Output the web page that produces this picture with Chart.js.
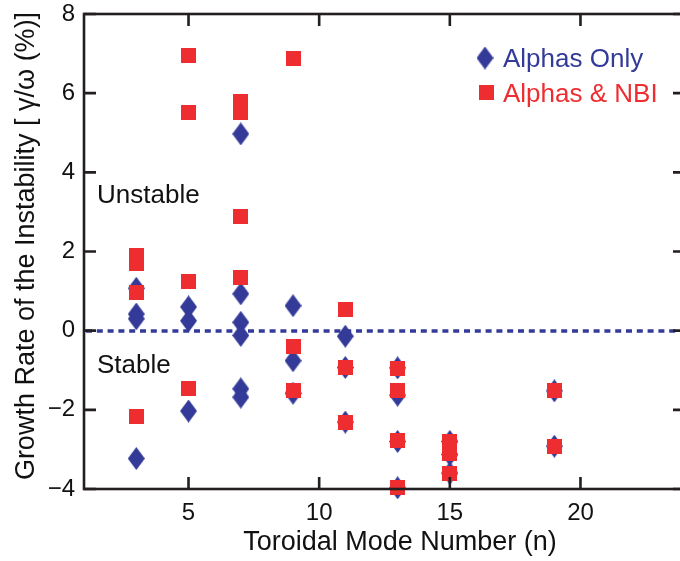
<!DOCTYPE html>
<html><head><meta charset="utf-8">
<script src="https://cdn.jsdelivr.net/npm/chart.js@4"></script>
<style>
html,body{margin:0;padding:0;background:#fff;overflow:hidden}
#wrap{width:680px;height:561px;overflow:hidden;position:relative;background:#fff}
canvas{display:block}
</style></head><body>
<div id="wrap"><canvas id="c" width="690" height="561" style="width:690px;height:561px"></canvas></div>
<script>
// ---- data ----
const alphasOnlyN      = [3, 3, 3, 3,   5, 5, 5,   7, 7, 7, 7, 7, 7,   9, 9, 9,   11, 11, 11,   13, 13, 13, 13,   15, 15, 15,   19, 19];
const alphasOnlyGrowth = [1.07, 0.42, 0.30, -3.23,   0.60, 0.25, -2.03,   4.97, 0.93, 0.21, -0.12, -1.47, -1.68,   0.63, -0.76, -1.58,   -0.14, -0.93, -2.31,   -0.94, -1.63, -2.80, -3.97,   -2.80, -3.13, -3.60,   -1.52, -2.92];
const alphasNbiN       = [3, 3, 3, 3,   5, 5, 5, 5,   7, 7, 7, 7,   9, 9, 9,   11, 11, 11,   13, 13, 13, 13,   15, 15, 15,   19, 19];
const alphasNbiGrowth  = [1.90, 1.70, 0.97, -2.18,   6.95, 5.51, 1.25, -1.47,   5.80, 5.50, 2.89, 1.34,   6.87, -0.39, -1.51,   0.54, -0.92, -2.31,   -0.95, -1.51, -2.77, -3.95,   -2.80, -3.10, -3.62,   -1.52, -2.92];
const seriesLabels = ['Alphas Only', 'Alphas & NBI'];
const xTickValues = [5, 10, 15, 20];
const yTickValues = [-4, -2, 0, 2, 4, 6, 8];
const xRange = [1, 24];
const yRange = [-4, 8];
const stabilityThreshold = 0;
const regionLabels = ['Unstable', 'Stable'];
const xTitle = 'Toroidal Mode Number (n)';
const yTitle = 'Growth Rate of the Instability [ γ/ω (%)]';

// ---- styles ----
const BLUE = '#333a98';
const RED = '#ed2d30';
const INK = '#111111';
const FONT = '"Liberation Sans", Arial, Helvetica, sans-serif';

function makeDiamond(color, w, h) {
  const c = document.createElement('canvas'); c.width = w; c.height = h;
  const g = c.getContext('2d'); g.fillStyle = color;
  g.beginPath(); g.moveTo(w / 2, 0); g.lineTo(w, h / 2); g.lineTo(w / 2, h); g.lineTo(0, h / 2); g.closePath(); g.fill();
  return c;
}
function makeSquare(color, s) {
  const c = document.createElement('canvas'); c.width = s; c.height = s;
  const g = c.getContext('2d'); g.fillStyle = color; g.fillRect(0, 0, s, s);
  return c;
}
const diamondImg = makeDiamond(BLUE, 17, 23);
const squareImg = makeSquare(RED, 15);

const toPoints = (xs, ys) => xs.map((x, i) => ({ x: x, y: ys[i] }));

const decor = {
  id: 'decor',
  beforeDatasetsDraw(chart) {
    const { ctx, chartArea: a, scales: { y } } = chart;
    const py = Math.round(y.getPixelForValue(stabilityThreshold));
    ctx.save();
    ctx.strokeStyle = BLUE; ctx.lineWidth = 3.5; ctx.setLineDash([6, 4.8]);
    ctx.beginPath(); ctx.moveTo(a.left + 2, py); ctx.lineTo(a.right, py); ctx.stroke();
    ctx.restore();
  },
  afterDatasetsDraw(chart) {
    const { ctx, chartArea: a, scales: { x, y } } = chart;
    ctx.save();
    ctx.strokeStyle = '#231f20'; ctx.lineWidth = 2.6; ctx.setLineDash([]);
    ctx.strokeRect(a.left, a.top, a.right - a.left, a.bottom - a.top);
    const TL = 12;
    ctx.beginPath();
    xTickValues.forEach(v => {
      const px = x.getPixelForValue(v);
      ctx.moveTo(px, a.bottom); ctx.lineTo(px, a.bottom - TL);
      ctx.moveTo(px, a.top); ctx.lineTo(px, a.top + TL);
    });
    yTickValues.forEach(v => {
      const py = y.getPixelForValue(v);
      ctx.moveTo(a.left, py); ctx.lineTo(a.left + TL, py);
      ctx.moveTo(a.right, py); ctx.lineTo(a.right - TL, py);
    });
    ctx.stroke();

    // region labels
    ctx.fillStyle = INK; ctx.font = '26px ' + FONT; ctx.textAlign = 'left'; ctx.textBaseline = 'alphabetic';
    ctx.fillText(regionLabels[0], 97, 203);
    ctx.fillText(regionLabels[1], 97, 373);

    // legend
    ctx.drawImage(diamondImg, 485 - 8.5, 58 - 11.5);
    ctx.drawImage(squareImg, 486 - 7.5, 92 - 7.5);
    ctx.font = '26px ' + FONT;
    ctx.fillStyle = BLUE; ctx.fillText(chart.data.datasets[0].label, 503, 67);
    ctx.fillStyle = RED; ctx.fillText(chart.data.datasets[1].label, 503, 102);

    // axis titles
    ctx.fillStyle = INK; ctx.font = '27px ' + FONT; ctx.textAlign = 'center'; ctx.textBaseline = 'middle';
    ctx.fillText(xTitle, 400, 543);
    ctx.translate(27, 246); ctx.rotate(-Math.PI / 2);
    ctx.fillText(yTitle, 0, 0);
    ctx.restore();
  }
};

new Chart(document.getElementById('c'), {
  type: 'scatter',
  data: {
    datasets: [
      { label: seriesLabels[0], data: toPoints(alphasOnlyN, alphasOnlyGrowth), pointStyle: diamondImg, backgroundColor: BLUE, borderColor: BLUE, order: 1, clip: false },
      { label: seriesLabels[1], data: toPoints(alphasNbiN, alphasNbiGrowth), pointStyle: squareImg, backgroundColor: RED, borderColor: RED, order: 0, clip: false }
    ]
  },
  options: {
    responsive: false,
    animation: false,
    devicePixelRatio: 1,
    layout: { padding: { top: 14, right: 4, left: 0, bottom: 0 } },
    plugins: { legend: { display: false }, tooltip: { enabled: false } },
    scales: {
      x: {
        type: 'linear', min: xRange[0], max: xRange[1],
        afterBuildTicks: s => { s.ticks = xTickValues.map(v => ({ value: v })); },
        afterFit: s => { s.height = 72; s.paddingLeft = 0; s.paddingRight = 0; },
        grid: { display: false, drawTicks: false },
        border: { display: false },
        ticks: { color: INK, font: { family: FONT, size: 24, lineHeight: 1 }, padding: 12, maxRotation: 0 }
      },
      y: {
        type: 'linear', min: yRange[0], max: yRange[1],
        afterBuildTicks: s => { s.ticks = yTickValues.map(v => ({ value: v })); },
        afterFit: s => { s.width = 84; s.paddingTop = 0; s.paddingBottom = 0; },
        grid: { display: false, drawTicks: false },
        border: { display: false },
        ticks: { color: INK, font: { family: FONT, size: 24, lineHeight: 1 }, padding: 9,
          callback: v => (v < 0 ? '\u2212' + Math.abs(v) : String(v)) }
      }
    }
  },
  plugins: [decor]
});
</script>
</body></html>
